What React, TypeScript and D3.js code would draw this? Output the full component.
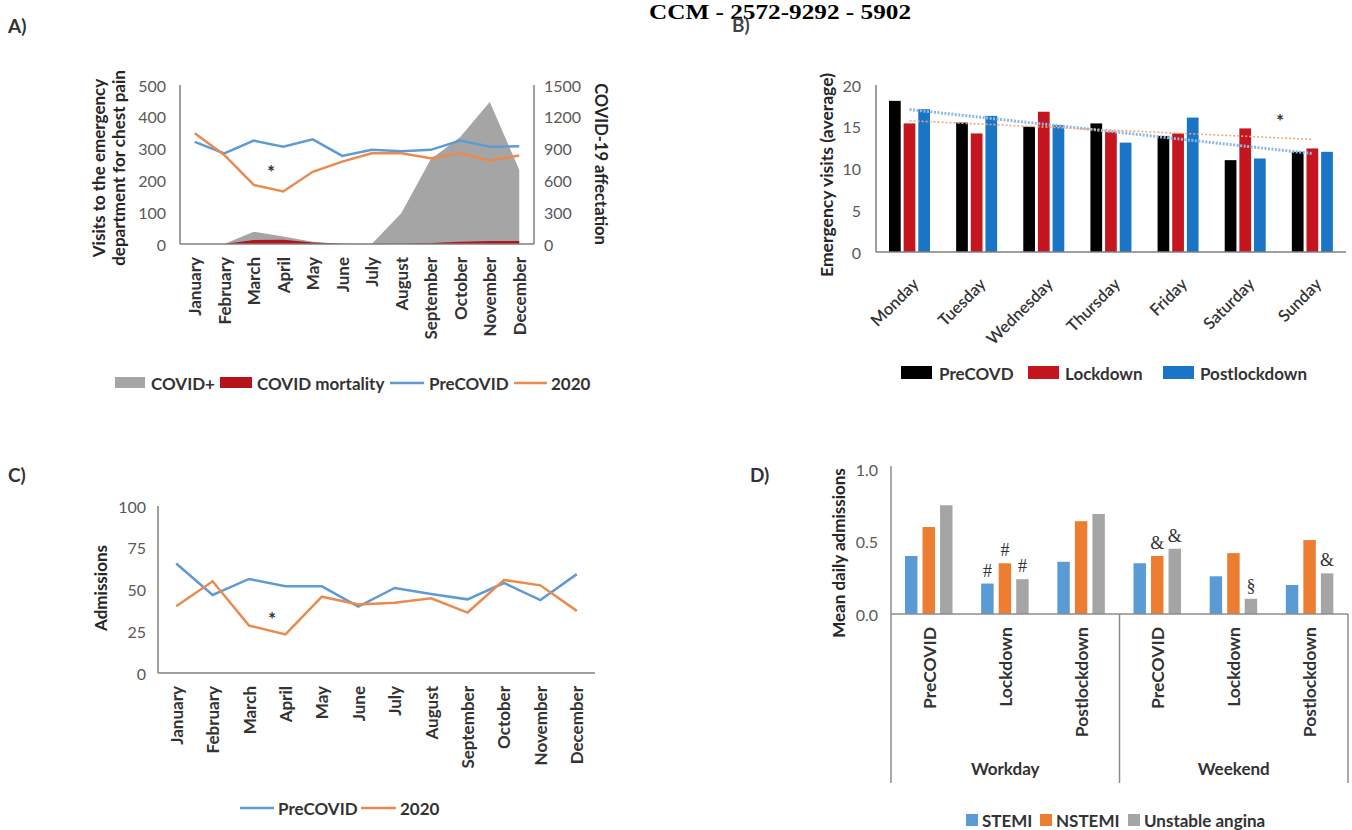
import React from "react";
import * as d3 from "d3";

// ---- Panel A: chest pain visits + COVID curve
const months = [
  "January", "February", "March", "April", "May", "June",
  "July", "August", "September", "October", "November", "December",
];
const chestPainPreCovid = [321, 285, 325, 306, 329, 277, 296, 292, 296, 325, 306, 307];
const chestPain2020 = [348, 280, 186, 165, 227, 259, 285, 285, 270, 285, 262, 278];
const covidPositive = [0, 0, 115, 70, 22, 0, 0, 290, 800, 1010, 1340, 700];
const covidMortality = [0, 0, 38, 40, 15, 3, 0, 2, 10, 22, 28, 28];

// ---- Panel B: emergency visits per weekday
const weekdays = ["Monday", "Tuesday", "Wednesday", "Thursday", "Friday", "Saturday", "Sunday"];
const visitSeries = ["PreCOVD", "Lockdown", "Postlockdown"];
const visitsPre = [18.1, 15.5, 15.0, 15.4, 13.9, 11.0, 12.0];
const visitsLockdown = [15.4, 14.2, 16.8, 14.4, 14.2, 14.8, 12.4];
const visitsPost = [17.1, 16.3, 15.2, 13.1, 16.1, 11.2, 12.0];

// ---- Panel C: admissions per month
const admissionsPreCovid = [65.6, 46.7, 56.3, 51.9, 51.9, 39.8, 50.9, 47.3, 44.1, 53.9, 43.7, 59.2];
const admissions2020 = [40, 54.9, 28.4, 23.1, 45.7, 41, 42.1, 44.7, 36.2, 55.7, 52.5, 37.2];

// ---- Panel D: mean daily admissions by syndrome
const dayTypes = ["Workday", "Weekend"];
const periods = ["PreCOVID", "Lockdown", "Postlockdown"];
const syndromes = ["STEMI", "NSTEMI", "Unstable angina"];
const stemi = [0.4, 0.21, 0.36, 0.35, 0.26, 0.2];
const nstemi = [0.6, 0.35, 0.64, 0.4, 0.42, 0.51];
const unstableAngina = [0.75, 0.24, 0.69, 0.45, 0.105, 0.28];
const marks = [
  { slot: 1, series: 0, mark: "#" },
  { slot: 1, series: 1, mark: "#" },
  { slot: 1, series: 2, mark: "#" },
  { slot: 3, series: 1, mark: "&" },
  { slot: 3, series: 2, mark: "&" },
  { slot: 4, series: 2, mark: "§" },
  { slot: 5, series: 2, mark: "&" },
];

const FONT = "Lato, 'Open Sans', sans-serif";
const TICK = "#595959";
const AXIS = "#7f7f7f";
const LABEL = "#333333";
const TITLE = "#262626";
const BLUE_LINE = "#5f9bd3";
const ORANGE_LINE = "#e98a4f";

function linearFit(values: number[]) {
  const n = values.length;
  const mx = d3.mean(values.map((_, i) => i))!;
  const my = d3.mean(values)!;
  let num = 0;
  let den = 0;
  values.forEach((v, i) => {
    num += (i - mx) * (v - my);
    den += (i - mx) * (i - mx);
  });
  const slope = num / den;
  return [my - slope * mx, my + slope * (n - 1 - mx)];
}

const PanelA = () => {
  const x = d3.scaleBand<string>().domain(months).range([180, 534]);
  const cx = (m: string) => x(m)! + x.bandwidth() / 2;
  const y = d3.scaleLinear().domain([0, 500]).range([244, 85]);
  const y2 = d3.scaleLinear().domain([0, 1500]).range([244, 85]);

  const area = d3
    .area<number>()
    .x((_, i) => cx(months[i]))
    .y0(y2(0))
    .y1((d) => y2(d));
  const line = d3
    .line<number>()
    .x((_, i) => cx(months[i]))
    .y((d) => y(d));

  return (
    <g>
      <path d={area(covidPositive) || ""} fill="#a5a5a5" />
      <path d={area(covidMortality) || ""} fill="#b5121b" />
      <path d={line(chestPainPreCovid) || ""} fill="none" stroke={BLUE_LINE} strokeWidth={2.5} />
      <path d={line(chestPain2020) || ""} fill="none" stroke={ORANGE_LINE} strokeWidth={2.5} />
      <line x1={180} x2={180} y1={85} y2={244} stroke={AXIS} strokeWidth={1.5} />
      <line x1={534} x2={534} y1={85} y2={244} stroke={AXIS} strokeWidth={1.5} />
      <line x1={180} x2={534} y1={244} y2={244} stroke={AXIS} strokeWidth={1.5} />
      {y.ticks(5).map((t) => (
        <text key={t} x={166} y={y(t)} textAnchor="end" dominantBaseline="central"
          fontSize={16} fill={TICK}>{t}</text>
      ))}
      {[0, 300, 600, 900, 1200, 1500].map((t) => (
        <text key={t} x={544} y={y2(t)} dominantBaseline="central" fontSize={16} fill={TICK}>{t}</text>
      ))}
      {months.map((m) => (
        <text key={m} transform={`translate(${cx(m)},257) rotate(-90)`} textAnchor="end"
          dominantBaseline="central" fontSize={17} fontWeight="bold" fill={LABEL}>{m}</text>
      ))}
      <text x={271} y={179} textAnchor="middle" fontSize={19} fontWeight="bold" fill="#333">*</text>
      <text transform="translate(98,168) rotate(-90)" textAnchor="middle" dominantBaseline="central"
        fontSize={17} fontWeight="bold" fill={TITLE}>Visits to the emergency</text>
      <text transform="translate(118,168) rotate(-90)" textAnchor="middle" dominantBaseline="central"
        fontSize={17} fontWeight="bold" fill={TITLE}>department for chest pain</text>
      <text transform="translate(601,164) rotate(90)" textAnchor="middle" dominantBaseline="central"
        fontSize={16.5} fontWeight="bold" fill={TITLE}>COVID-19 affectation</text>
      {/* legend */}
      <rect x={115} y={377} width={30} height={11} fill="#a5a5a5" />
      <text x={151} y={383} dominantBaseline="central" fontSize={17} fontWeight="bold" fill={LABEL}>COVID+</text>
      <rect x={220} y={377} width={32} height={11} fill="#b5121b" />
      <text x={257} y={383} dominantBaseline="central" fontSize={17} fontWeight="bold" fill={LABEL}>COVID mortality</text>
      <line x1={390} x2={424} y1={383} y2={383} stroke={BLUE_LINE} strokeWidth={2.5} />
      <text x={429} y={383} dominantBaseline="central" fontSize={17} fontWeight="bold" fill={LABEL}>PreCOVID</text>
      <line x1={514} x2={547} y1={383} y2={383} stroke={ORANGE_LINE} strokeWidth={2.5} />
      <text x={551} y={383} dominantBaseline="central" fontSize={17} fontWeight="bold" fill={LABEL}>2020</text>
    </g>
  );
};

const PanelB = () => {
  const x = d3.scaleBand<string>().domain(weekdays).range([876, 1346]);
  const inner = d3.scaleBand<string>().domain(visitSeries).range([13, 54]).paddingInner(0.2);
  const y = d3.scaleLinear().domain([0, 20]).range([252, 85]);
  const colors = ["#000000", "#c5161f", "#1a75c6"];
  const data = [visitsPre, visitsLockdown, visitsPost];
  const cx = (d: string) => x(d)! + x.bandwidth() / 2;

  const lockFit = linearFit(visitsLockdown);
  const postFit = linearFit(visitsPost);
  const first = cx(weekdays[0]);
  const last = cx(weekdays[weekdays.length - 1]);

  const legendX = [901, 1028, 1163];
  const legendTextX = [939, 1065, 1200];

  return (
    <g>
      {weekdays.map((d, i) =>
        visitSeries.map((s, j) => (
          <rect key={d + s} x={x(d)! + inner(s)!} y={y(data[j][i])} width={inner.bandwidth()}
            height={y(0) - y(data[j][i])} fill={colors[j]} />
        ))
      )}
      <line x1={first} x2={last} y1={y(postFit[0])} y2={y(postFit[1])} stroke="#8fb8e0"
        strokeWidth={3} strokeDasharray="2 1.5" />
      <line x1={first} x2={last} y1={y(lockFit[0])} y2={y(lockFit[1])} stroke="#f0a878"
        strokeWidth={1.6} strokeDasharray="2 2" />
      <line x1={876} x2={876} y1={85} y2={252} stroke={AXIS} strokeWidth={1.5} />
      <line x1={876} x2={1346} y1={252} y2={252} stroke={AXIS} strokeWidth={1.5} />
      {y.ticks(5).map((t) => (
        <text key={t} x={861} y={y(t)} textAnchor="end" dominantBaseline="central"
          fontSize={16} fill={TICK}>{t}</text>
      ))}
      {weekdays.map((d) => (
        <text key={d} transform={`translate(${cx(d) + 6},281) rotate(-45)`} textAnchor="end"
          dominantBaseline="central" fontSize={16.5} fontWeight={600} fill={LABEL}>{d}</text>
      ))}
      <text x={1280} y={128} textAnchor="middle" fontSize={19} fontWeight="bold" fill="#333">*</text>
      <text transform="translate(826,175) rotate(-90)" textAnchor="middle" dominantBaseline="central"
        fontSize={17} fontWeight="bold" fill={TITLE} textLength={204}
        lengthAdjust="spacingAndGlyphs">Emergency visits (average)</text>
      {visitSeries.map((s, j) => (
        <g key={s}>
          <rect x={legendX[j]} y={366} width={31} height={13} fill={colors[j]} />
          <text x={legendTextX[j]} y={373} dominantBaseline="central" fontSize={17}
            fontWeight="bold" fill={LABEL}>{s}</text>
        </g>
      ))}
    </g>
  );
};

const PanelC = () => {
  const x = d3.scaleBand<string>().domain(months).range([158, 595]);
  const cx = (m: string) => x(m)! + x.bandwidth() / 2;
  const y = d3.scaleLinear().domain([0, 100]).range([673, 506]);
  const line = d3
    .line<number>()
    .x((_, i) => cx(months[i]))
    .y((d) => y(d));
  return (
    <g>
      <path d={line(admissionsPreCovid) || ""} fill="none" stroke={BLUE_LINE} strokeWidth={2.5} />
      <path d={line(admissions2020) || ""} fill="none" stroke={ORANGE_LINE} strokeWidth={2.5} />
      <line x1={158} x2={158} y1={506} y2={673} stroke={AXIS} strokeWidth={1.5} />
      <line x1={158} x2={595} y1={673} y2={673} stroke={AXIS} strokeWidth={1.5} />
      {[0, 25, 50, 75, 100].map((t) => (
        <text key={t} x={146} y={y(t)} textAnchor="end" dominantBaseline="central"
          fontSize={16} fill={TICK}>{t}</text>
      ))}
      {months.map((m) => (
        <text key={m} transform={`translate(${cx(m)},686) rotate(-90)`} textAnchor="end"
          dominantBaseline="central" fontSize={17} fontWeight="bold" fill={LABEL}>{m}</text>
      ))}
      <text x={272} y={626} textAnchor="middle" fontSize={19} fontWeight="bold" fill="#333">*</text>
      <text transform="translate(100,588) rotate(-90)" textAnchor="middle" dominantBaseline="central"
        fontSize={17} fontWeight="bold" fill={TITLE}>Admissions</text>
      <line x1={240} x2={274} y1={808} y2={808} stroke={BLUE_LINE} strokeWidth={2.5} />
      <text x={278} y={808} dominantBaseline="central" fontSize={17} fontWeight="bold" fill={LABEL}>PreCOVID</text>
      <line x1={361} x2={396} y1={808} y2={808} stroke={ORANGE_LINE} strokeWidth={2.5} />
      <text x={400} y={808} dominantBaseline="central" fontSize={17} fontWeight="bold" fill={LABEL}>2020</text>
    </g>
  );
};

const PanelD = () => {
  const slots = dayTypes.flatMap((d) => periods.map((p) => `${d}|${p}`));
  const x = d3.scaleBand<string>().domain(slots).range([891, 1348]);
  const inner = d3.scaleBand<string>().domain(syndromes).range([14, 61.5]).paddingInner(0.29);
  const y = d3.scaleLinear().domain([0, 1]).range([614, 469]);
  const colors = ["#5b9bd5", "#ed7d31", "#a5a5a5"];
  const data = [stemi, nstemi, unstableAngina];
  const cx = (s: string) => x(s)! + x.bandwidth() / 2;
  const groupEdges = [891, x(slots[3])!, 1348];
  const legendX = [966, 1040, 1128];
  const legendTextX = [982, 1056, 1144];

  return (
    <g>
      {slots.map((s, i) =>
        syndromes.map((k, j) => (
          <rect key={s + k} x={x(s)! + inner(k)!} y={y(data[j][i])} width={inner.bandwidth()}
            height={y(0) - y(data[j][i])} fill={colors[j]} />
        ))
      )}
      {marks.map((m, i) => (
        <text key={i} x={x(slots[m.slot])! + inner(syndromes[m.series])! + inner.bandwidth() / 2}
          y={y(data[m.series][m.slot]) - 7} textAnchor="middle" fontSize={18}
          fontFamily="'Liberation Serif', serif" fill="#333">{m.mark}</text>
      ))}
      <line x1={891} x2={1348} y1={614} y2={614} stroke="#8c8c8c" strokeWidth={1.5} />
      <line x1={891} x2={891} y1={466} y2={614} stroke="#8c8c8c" strokeWidth={1.5} />
      {groupEdges.map((g, i) => (
        <line key={i} x1={g} x2={g} y1={614} y2={783} stroke="#8c8c8c" strokeWidth={1.5} />
      ))}
      {[0, 0.5, 1].map((t) => (
        <text key={t} x={878} y={y(t)} textAnchor="end" dominantBaseline="central"
          fontSize={16} fill={TICK}>{t.toFixed(1)}</text>
      ))}
      {slots.map((s) => (
        <text key={s} transform={`translate(${cx(s)},627) rotate(-90)`} textAnchor="end"
          dominantBaseline="central" fontSize={17.5} fontWeight="bold" fill={LABEL}>{s.split("|")[1]}</text>
      ))}
      {dayTypes.map((d, i) => (
        <text key={d} x={(groupEdges[i] + groupEdges[i + 1]) / 2} y={768} textAnchor="middle"
          dominantBaseline="central" fontSize={17} fontWeight="bold" fill={LABEL}>{d}</text>
      ))}
      <text transform="translate(838,553) rotate(-90)" textAnchor="middle" dominantBaseline="central"
        fontSize={17} fontWeight="bold" fill={TITLE}>Mean daily admissions</text>
      {syndromes.map((k, j) => (
        <g key={k}>
          <rect x={legendX[j]} y={814} width={12} height={12} fill={colors[j]} />
          <text x={legendTextX[j]} y={820} dominantBaseline="central" fontSize={17}
            fontWeight="bold" fill={LABEL}>{k}</text>
        </g>
      ))}
    </g>
  );
};

export default function App() {
  return (
    <svg width={1352} height={830} viewBox="0 0 1352 830" fontFamily={FONT}
      style={{ position: "absolute", left: 0, top: 0, background: "#fff" }}>
      <rect width={1352} height={830} fill="#fff" />
      <text x={649} y={19} fontFamily="'Liberation Serif', 'DejaVu Serif', serif" fontWeight="bold"
        fontSize={21} textLength={262} lengthAdjust="spacingAndGlyphs" fill="#000">CCM - 2572-9292 - 5902</text>
      <text x={8} y={33} fontSize={19} fontWeight="bold" fill="#333">A)</text>
      <text x={732} y={32} fontSize={19} fontWeight="bold" fill="#444">B)</text>
      <text x={8} y={482} fontSize={19} fontWeight="bold" fill="#333">C)</text>
      <text x={750} y={482} fontSize={19} fontWeight="bold" fill="#333">D)</text>
      <PanelA />
      <PanelB />
      <PanelC />
      <PanelD />
    </svg>
  );
}
